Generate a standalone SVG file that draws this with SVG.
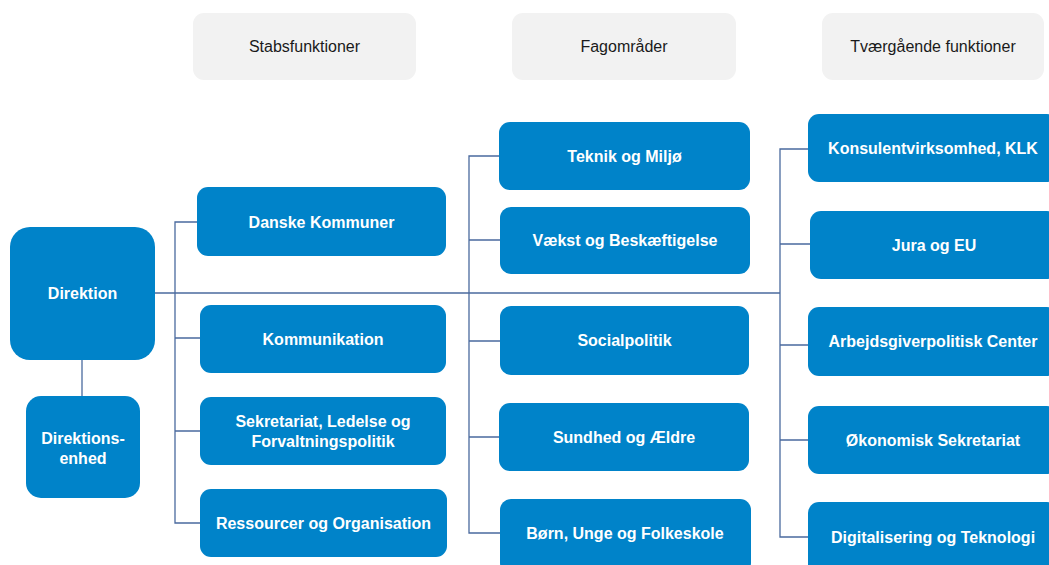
<svg xmlns="http://www.w3.org/2000/svg" width="1049" height="565" viewBox="0 0 1049 565">
<style>
.hdr{fill:#f2f2f2}
.hdrt{font-family:"Liberation Sans",Arial,sans-serif;font-size:16px;fill:#1a1a1a;text-anchor:middle}
.box{fill:#0083c9}
.bt{font-family:"Liberation Sans",Arial,sans-serif;font-size:16px;font-weight:bold;fill:#ffffff;text-anchor:middle}
.ln{stroke:#4a6a9e;stroke-width:1.3;fill:none}
</style>
<rect width="1049" height="565" fill="#ffffff"/>
<g id="headers">
<g id="h-stabs"><rect class="hdr" x="193" y="13" width="223" height="67" rx="11"/><text class="hdrt" x="304.5" y="52">Stabsfunktioner</text></g>
<g id="h-fag"><rect class="hdr" x="512" y="13" width="224" height="67" rx="11"/><text class="hdrt" x="624" y="52">Fagområder</text></g>
<g id="h-tvaer"><rect class="hdr" x="822" y="13" width="222" height="67" rx="11"/><text class="hdrt" x="933" y="52">Tværgående funktioner</text></g>
</g>
<g id="connectors">
<path class="ln" d="M155 293 H780"/>
<path class="ln" d="M82 360 V396"/>
<path class="ln" d="M197 222 H175 V523 H200 M175 338 H200 M175 431 H200"/>
<path class="ln" d="M499 156 H469 V533 H500 M469 240 H500 M469 341 H500 M469 437 H499"/>
<path class="ln" d="M808 149 H780 V537 H808 M780 244 H810 M780 345 H808 M780 440 H808"/>
</g>
<g id="direktion"><rect class="box" x="10" y="227" width="145" height="133" rx="20"/><text class="bt" x="82.5" y="299">Direktion</text></g>
<g id="direktionsenhed"><rect class="box" x="26" y="396" width="114" height="102" rx="15"/><text class="bt" x="83" y="443.5">Direktions-</text><text class="bt" x="83" y="463.5">enhed</text></g>
<g id="danske-kommuner"><rect class="box" x="197" y="187" width="249" height="69" rx="11"/><text class="bt" x="321.5" y="227.5">Danske Kommuner</text></g>
<g id="kommunikation"><rect class="box" x="200" y="305" width="246" height="68" rx="11"/><text class="bt" x="323" y="344.5">Kommunikation</text></g>
<g id="sekretariat"><rect class="box" x="200" y="397" width="246" height="68" rx="11"/><text class="bt" x="323" y="426.5">Sekretariat, Ledelse og</text><text class="bt" x="323" y="446.5">Forvaltningspolitik</text></g>
<g id="ressourcer"><rect class="box" x="200" y="489" width="247" height="68" rx="11"/><text class="bt" x="323.5" y="528.5">Ressourcer og Organisation</text></g>
<g id="teknik"><rect class="box" x="499" y="122" width="251" height="68" rx="11"/><text class="bt" x="624.5" y="161.5">Teknik og Miljø</text></g>
<g id="vaekst"><rect class="box" x="500" y="207" width="250" height="67" rx="11"/><text class="bt" x="625" y="246">Vækst og Beskæftigelse</text></g>
<g id="socialpolitik"><rect class="box" x="500" y="306" width="249" height="69" rx="11"/><text class="bt" x="624.5" y="346">Socialpolitik</text></g>
<g id="sundhed"><rect class="box" x="499" y="403" width="250" height="68" rx="11"/><text class="bt" x="624" y="442.5">Sundhed og Ældre</text></g>
<g id="boern"><rect class="box" x="500" y="499" width="251" height="75" rx="11"/><text class="bt" x="625" y="538.5">Børn, Unge og Folkeskole</text></g>
<g id="konsulent"><rect class="box" x="808" y="114" width="250" height="68" rx="11"/><text class="bt" x="933" y="153.5">Konsulentvirksomhed, KLK</text></g>
<g id="jura"><rect class="box" x="810" y="211" width="248" height="68" rx="11"/><text class="bt" x="934" y="250.5">Jura og EU</text></g>
<g id="arbejdsgiver"><rect class="box" x="808" y="307" width="250" height="69" rx="11"/><text class="bt" x="933" y="347">Arbejdsgiverpolitisk Center</text></g>
<g id="oekonomisk"><rect class="box" x="808" y="406" width="250" height="68" rx="11"/><text class="bt" x="933" y="445.5">Økonomisk Sekretariat</text></g>
<g id="digitalisering"><rect class="box" x="808" y="502" width="250" height="75" rx="11"/><text class="bt" x="933" y="542.5">Digitalisering og Teknologi</text></g>
</svg>
